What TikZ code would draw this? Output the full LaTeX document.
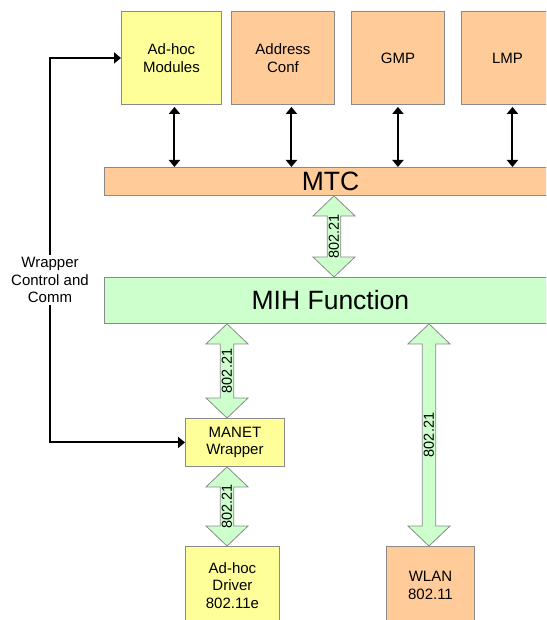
\documentclass[tikz,border=0pt]{standalone}
\usepackage{fontspec}
\setmainfont{Liberation Sans}
\usetikzlibrary{arrows.meta,calc}

\definecolor{boxyellow}{HTML}{FFFF99}
\definecolor{boxorange}{HTML}{FFCC99}
\definecolor{boxgreen}{HTML}{CCFFCC}
\definecolor{boxline}{HTML}{8A8A8A}

% fat double arrow between two stacked nodes, at a given x (px)
\newcommand\fatarrow[3]{%
  \draw[fat] let \p1=(#2.south), \p2=(#3.north) in
    (#1pt,\y1) -- ({#1pt+21pt},{\y1-20pt}) -- ({#1pt+6.75pt},{\y1-20pt})
    -- ({#1pt+6.75pt},{\y2+20pt}) -- ({#1pt+21pt},{\y2+20pt}) -- (#1pt,\y2)
    -- ({#1pt-21pt},{\y2+20pt}) -- ({#1pt-6.75pt},{\y2+20pt})
    -- ({#1pt-6.75pt},{\y1-20pt}) -- ({#1pt-21pt},{\y1-20pt}) -- cycle
    (#1pt,{0.5*\y1+0.5*\y2}) node[tag, rotate=90] {802.21};}

\begin{document}
\begin{tikzpicture}[
        x=1pt, y=-1pt,
        box/.style={draw=boxline, line width=0.9pt, anchor=north west, inner sep=0pt,
            align=center, font=\fontsize{15}{17.5}\selectfont},
        bar/.style={box, fill=boxorange, font=\fontsize{26.5}{28}\selectfont},
        link/.style={{Triangle[length=7pt,width=11pt]}-{Triangle[length=7pt,width=11pt]}, line width=2pt},
        ctl/.style={-{Triangle[length=7pt,width=11pt]}, line width=2pt},
        fat/.style={draw=boxline, line width=0.8pt, fill=boxgreen, line join=miter},
        tag/.style={font=\fontsize{14.5}{14.5}\selectfont, inner sep=0pt},
        label/.style={font=\fontsize{15}{17.5}\selectfont, align=center, fill=white, inner sep=2pt}
    ]

        \useasboundingbox (0,0) rectangle (546,620);
        \clip (0,0) rectangle (546,620);

        % Top row
        \node[box, fill=boxyellow, minimum width=100, minimum height=93] (mods) at (121,11) {Ad-hoc\\Modules};
        \node[box, fill=boxorange, minimum width=103, minimum height=93] (addr) at (231,11) {Address\\Conf};
        \node[box, fill=boxorange, minimum width=93, minimum height=93] (gmp) at (351,11) {GMP};
        \node[box, fill=boxorange, minimum width=92, minimum height=93] (lmp) at (461,11) {LMP};

        % Bars
        \node[bar, minimum width=452, minimum height=28] (mtc) at (104,167) {MTC};
        \node[bar, fill=boxgreen, minimum width=452, minimum height=46] (mih) at (104,277) {MIH Function};

        % Bottom
        \node[box, fill=boxyellow, minimum width=99, minimum height=48] (manet) at (185,418) {MANET\\Wrapper};
        \node[box, fill=boxyellow, minimum width=94, minimum height=78] (drv) at (185,546) {Ad-hoc\\Driver\\802.11e};
        \node[box, fill=boxorange, minimum width=88, minimum height=78] (wlan) at (386,546) {WLAN\\802.11};

        % Links to MTC
        \draw[link] ([xshift=3pt, yshift=-2pt]mods.south) -- ([xshift=3pt]mods.south |- mtc.north);
        \draw[link] ([xshift=8.5pt, yshift=-2pt]addr.south) -- ([xshift=8.5pt]addr.south |- mtc.north);
        \draw[link] ([yshift=-2pt]gmp.south) -- (gmp.south |- mtc.north);
        \draw[link] ([xshift=5pt, yshift=-2pt]lmp.south) -- ([xshift=5pt]lmp.south |- mtc.north);

        % 802.21 arrows
        \fatarrow{334}{mtc}{mih}
        \fatarrow{227}{mih}{manet}
        \fatarrow{227}{manet}{drv}
        \fatarrow{429}{mih}{wlan}

        % Wrapper control
        \node[label] (comm) at (50,280) {Wrapper\\Control and\\Comm};
        \draw[ctl] (comm.north) |- (mods.west);
        \draw[ctl] (comm.south) |- (manet.west);

    \end{tikzpicture}
\end{document}
